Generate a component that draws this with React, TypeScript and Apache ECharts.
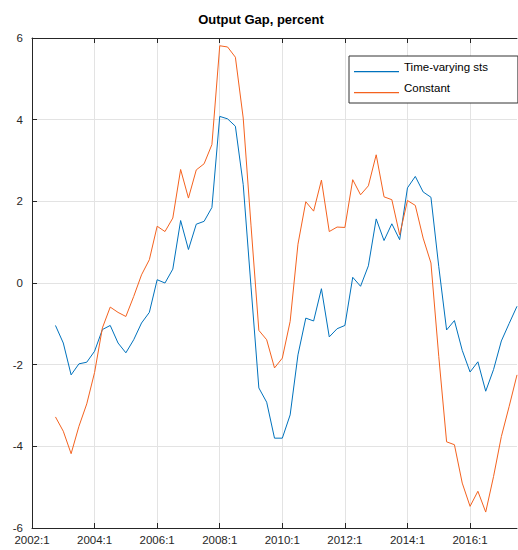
import React, { useEffect, useRef } from "react";
import * as echarts from "echarts";

const categories: string[] = [
  "2002:1","2002:2","2002:3","2002:4","2003:1","2003:2","2003:3","2003:4",
  "2004:1","2004:2","2004:3","2004:4","2005:1","2005:2","2005:3","2005:4",
  "2006:1","2006:2","2006:3","2006:4","2007:1","2007:2","2007:3","2007:4",
  "2008:1","2008:2","2008:3","2008:4","2009:1","2009:2","2009:3","2009:4",
  "2010:1","2010:2","2010:3","2010:4","2011:1","2011:2","2011:3","2011:4",
  "2012:1","2012:2","2012:3","2012:4","2013:1","2013:2","2013:3","2013:4",
  "2014:1","2014:2","2014:3","2014:4","2015:1","2015:2","2015:3","2015:4",
  "2016:1","2016:2","2016:3","2016:4","2017:1","2017:2","2017:3",
];

const timeVarying: (number | null)[] = [
  null, null, null, -1.04,
  -1.47, -2.25, -1.98, -1.94, -1.67, -1.14, -1.04, -1.47,
  -1.71, -1.39, -0.98, -0.72, 0.08, 0.0, 0.34, 1.53,
  0.82, 1.44, 1.51, 1.85, 4.08, 4.02, 3.84, 2.41,
  -0.1, -2.57, -2.92, -3.8, -3.8, -3.23, -1.76, -0.86,
  -0.93, -0.14, -1.32, -1.12, -1.04, 0.14, -0.08, 0.42,
  1.57, 1.04, 1.45, 1.06, 2.33, 2.61, 2.23, 2.1,
  0.4, -1.15, -0.92, -1.65, -2.18, -1.93, -2.65, -2.12,
  -1.42, -0.99, -0.57,
];

const constant: (number | null)[] = [
  null, null, null, -3.28,
  -3.63, -4.18, -3.51, -2.96, -2.19, -1.1, -0.59, -0.72,
  -0.82, -0.33, 0.2, 0.57, 1.39, 1.26, 1.59, 2.78,
  2.08, 2.77, 2.92, 3.39, 5.81, 5.78, 5.53, 4.04,
  1.4, -1.16, -1.39, -2.08, -1.84, -0.94, 0.95, 1.99,
  1.76, 2.52, 1.26, 1.37, 1.36, 2.53, 2.16, 2.38,
  3.14, 2.11, 2.04, 1.18, 2.02, 1.9, 1.1, 0.49,
  -1.8, -3.89, -3.96, -4.9, -5.47, -5.1, -5.61, -4.74,
  -3.76, -3.02, -2.25,
];

const seriesNames = ["Time-varying sts", "Constant"];
const title = "Output Gap, percent";

const BLUE = "#0072BD";
const ORANGE = "#F4621F";
const AXIS = "#262626";
const GRID = "#e3e3e3";
const FONT = "'Liberation Sans', Arial, Helvetica, sans-serif";

export default function App() {
  const ref = useRef<HTMLDivElement>(null);
  useEffect(() => {
    if (!ref.current) return;
    const chart = echarts.init(ref.current, undefined, { renderer: "svg" });
    chart.setOption({
      animation: false,
      backgroundColor: "#ffffff",
      textStyle: { fontFamily: FONT },
      title: {
        text: title,
        left: 256,
        top: 8,
        textAlign: "center",
        textStyle: { fontSize: 13, fontWeight: "bold", color: "#000", fontFamily: FONT },
      },
      legend: {
        orient: "vertical",
        left: 349,
        top: 56,
        padding: [5, 30, 9, 5],
        itemGap: 9,
        itemWidth: 45,
        itemHeight: 10.5,
        itemStyle: { borderWidth: 0 },
        icon: "path://M0,0L0.05,0L0,0.05Z M0,9.3L45,9.3L45,10.5L0,10.5Z",
        backgroundColor: "#ffffff",
        borderColor: "#333333",
        borderWidth: 1,
        borderRadius: 0,
        itemTextGap: 4,
        textStyle: { fontSize: 11.5, color: "#000", fontFamily: FONT },
        data: seriesNames,
      },
      grid: { left: 32, top: 38, right: 1, height: 490, containLabel: false },
      xAxis: [
        {
          type: "category",
          data: categories,
          boundaryGap: false,
          position: "bottom",
          axisLine: { show: true, onZero: false, lineStyle: { color: AXIS, width: 1 } },
          axisTick: { show: true, inside: true, length: 5, interval: 7, lineStyle: { color: AXIS } },
          axisLabel: {
            interval: 7,
            fontSize: 11.5,
            color: AXIS,
            margin: 6,
            fontFamily: FONT,
          },
          splitLine: { show: true, interval: 7, lineStyle: { color: GRID, width: 1 } },
        },
        {
          type: "category",
          data: categories,
          boundaryGap: false,
          position: "top",
          axisLine: { show: true, onZero: false, lineStyle: { color: AXIS, width: 1 } },
          axisTick: { show: true, inside: true, length: 5, interval: 7, lineStyle: { color: AXIS } },
          axisLabel: { show: false },
          splitLine: { show: false },
        },
      ],
      yAxis: {
        type: "value",
        min: -6,
        max: 6,
        interval: 2,
        axisLine: { show: true, onZero: false, lineStyle: { color: AXIS, width: 1 } },
        axisTick: { show: true, inside: true, length: 5, lineStyle: { color: AXIS } },
        axisLabel: {
          fontSize: 11.5,
          color: AXIS,
          margin: 9,
          fontFamily: FONT,
          verticalAlign: "middle",
          padding: [0, 0, 13, 0],
        },
        splitLine: { show: true, lineStyle: { color: GRID, width: 1 } },
      },
      series: [
        {
          name: seriesNames[0],
          type: "line",
          data: timeVarying,
          xAxisIndex: 0,
          showSymbol: false,
          symbol: "none",
          connectNulls: false,
          lineStyle: { color: BLUE, width: 1 },
          itemStyle: { color: BLUE },
        },
        {
          name: seriesNames[1],
          type: "line",
          data: constant,
          xAxisIndex: 0,
          showSymbol: false,
          symbol: "none",
          connectNulls: false,
          lineStyle: { color: ORANGE, width: 1 },
          itemStyle: { color: ORANGE },
        },
      ],
    });
    return () => chart.dispose();
  }, []);
  return (
    <div
      ref={ref}
      style={{ position: "fixed", left: 0, top: 0, width: 518, height: 550 }}
    />
  );
}
